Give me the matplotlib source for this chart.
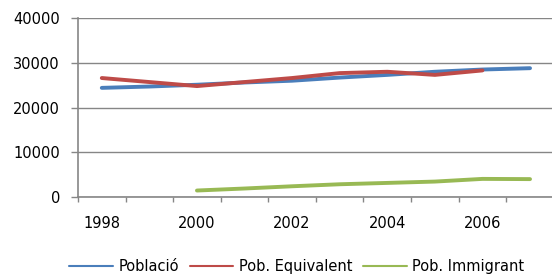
import numpy as np
import matplotlib.pyplot as plt
from matplotlib.ticker import FixedLocator

# data
years = [1998, 1999, 2000, 2001, 2002, 2003, 2004, 2005, 2006, 2007]
poblacio = [24400, 24700, 25100, 25600, 26000, 26700, 27300, 28000, 28500, 28800]
pob_equivalent = [26600, 25700, 24800, 25700, 26600, 27700, 28000, 27300, 28300, np.nan]
pob_immigrant = [np.nan, np.nan, 1450, 1900, 2400, 2850, 3150, 3450, 4050, 4000]
year_labels = ['1998', '2000', '2002', '2004', '2006']

grey = '#868686'

fig = plt.figure(figsize=(5.52, 2.74), dpi=100)
ax = fig.add_axes([0.1413, 0.281, 0.862, 0.653])

x = np.arange(len(years))
ax.plot(x, poblacio, color='#4A7EBB', lw=2.8, solid_capstyle='round', label='Població')
ax.plot(x, pob_equivalent, color='#BE4B48', lw=2.8, solid_capstyle='round', label='Pob. Equivalent')
ax.plot(x, pob_immigrant, color='#98B954', lw=2.8, solid_capstyle='round', label='Pob. Immigrant')

ax.set_xlim(-0.5, 9.5)
ax.set_ylim(0, 40000)
ax.set_yticks([0, 10000, 20000, 30000, 40000])
ax.yaxis.grid(True, color=grey, lw=1)
ax.set_axisbelow(True)

ax.set_xticks(x[::2])
ax.set_xticklabels(year_labels)
ax.xaxis.set_minor_locator(FixedLocator(np.arange(-0.5, 9.0, 1.0)))
ax.tick_params(axis='x', which='major', length=0, pad=14, labelsize=10.5)
ax.tick_params(axis='x', which='minor', length=3.5, width=1, color=grey, direction='out')
ax.tick_params(axis='y', length=5, width=1, color=grey, pad=8, labelsize=10.5)

for s in ['top', 'right']:
    ax.spines[s].set_visible(False)
for s in ['left', 'bottom']:
    ax.spines[s].set_color(grey)
    ax.spines[s].set_linewidth(1.2)

fig.legend(loc='center', bbox_to_anchor=(0.538, 0.027), ncol=3, frameon=False,
           fontsize=10.5, handlelength=3.0, handletextpad=0.4, columnspacing=0.7,
           borderpad=0)
for line in fig.legends[0].get_lines():
    line.set_linewidth(1.5)

fig.savefig('out.png', dpi=100)
